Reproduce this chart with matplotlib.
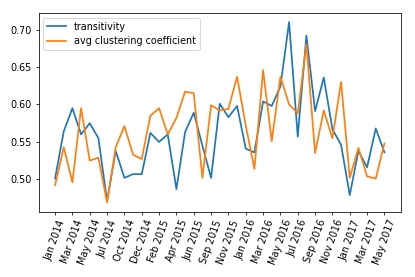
import numpy as np
import matplotlib
matplotlib.use('Agg')
import matplotlib.pyplot as plt

# one value per period, 39 periods from Jan 2014 to May 2017
transitivity = [0.501, 0.564, 0.595, 0.560, 0.575, 0.555, 0.471, 0.538, 0.502, 0.507,
                0.507, 0.562, 0.550, 0.560, 0.487, 0.563, 0.589, 0.545, 0.502, 0.601,
                0.583, 0.598, 0.541, 0.536, 0.604, 0.598, 0.624, 0.710, 0.557, 0.692,
                0.591, 0.636, 0.567, 0.546, 0.479, 0.538, 0.516, 0.568, 0.536]
avg_clustering = [0.492, 0.543, 0.496, 0.595, 0.525, 0.529, 0.469, 0.543, 0.571, 0.533,
                  0.527, 0.585, 0.595, 0.560, 0.582, 0.617, 0.615, 0.502, 0.599, 0.592,
                  0.594, 0.637, 0.572, 0.514, 0.646, 0.551, 0.637, 0.600, 0.588, 0.680,
                  0.535, 0.592, 0.555, 0.630, 0.502, 0.542, 0.504, 0.501, 0.548]

tick_labels = ['Jan 2014', 'Mar 2014', 'May 2014', 'Jul 2014', 'Oct 2014', 'Dec 2014',
               'Feb 2015', 'Apr 2015', 'Jun 2015', 'Sep 2015', 'Nov 2015', 'Jan 2016',
               'Mar 2016', 'May 2016', 'Jul 2016', 'Sep 2016', 'Nov 2016', 'Jan 2017',
               'Mar 2017', 'May 2017']

x = np.arange(len(transitivity))

fig, ax = plt.subplots(figsize=(6, 4.005), dpi=415 / 6)
ax.plot(x, transitivity, label='transitivity', lw=1.8)
ax.plot(x, avg_clustering, label='avg clustering coefficient', lw=1.8)
ax.set_xticks(x[::2])
ax.set_xticklabels(tick_labels, rotation=70)
ax.legend(loc='upper left')
fig.subplots_adjust(left=0.093, right=0.966, top=0.953, bottom=0.236)
fig.savefig('out.png')
